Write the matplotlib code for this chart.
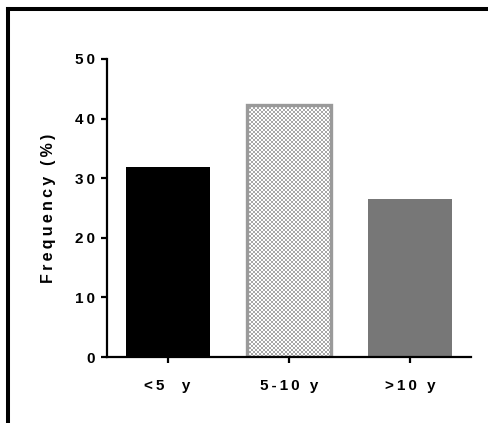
import numpy as np
import matplotlib
matplotlib.use("Agg")
import matplotlib.pyplot as plt
from matplotlib.lines import Line2D

# data
categories = ["<5  y", "5-10 y", ">10 y"]
frequency = [31.8, 42.3, 26.5]
y_ticks = [0, 10, 20, 30, 40, 50]

plt.rcParams['font.family'] = ['Liberation Sans', 'DejaVu Sans']
plt.rcParams['font.weight'] = 'bold'


def spaced(s):
    # letter spacing like the original figure
    return "\u2009".join(list(s))


W, H = 489, 423
fig = plt.figure(figsize=(W / 100, H / 100), dpi=100)
ax = fig.add_axes([107 / W, 1 - 357 / H, (471 - 107) / W, (357 - 59) / H])
ax.patch.set_alpha(0)

x = np.arange(len(categories))
bars = ax.bar(x, frequency, width=0.69, color=['black', 'none', '#777777'],
              edgecolor=['black', '#9a9a9a', '#7a7a7a'], linewidth=[0, 2.4, 0], zorder=2)

ax.set_xlim(-0.5, 2.5)
ax.set_ylim(0, 50)

# checker fill for middle bar, drawn unscaled in pixels (2 px cells), behind the axes
b = bars[1]
p0 = ax.transData.transform((b.get_x(), 0))
p1 = ax.transData.transform((b.get_x() + b.get_width(), b.get_height()))
xo, yo = int(np.floor(p0[0])), int(np.floor(p0[1]))
nx = int(np.ceil(p1[0])) - xo
ny = int(np.ceil(p1[1])) - yo
jj, ii = np.meshgrid(np.arange(nx), np.arange(ny))
checker = ((ii // 2 + jj // 2) % 2).astype(float)
img = fig.figimage(checker, xo=xo, yo=yo, origin='lower',
                   cmap=matplotlib.colors.ListedColormap(['#ffffff', '#a8a8a8']), zorder=-1)

ax.spines['top'].set_visible(False)
ax.spines['right'].set_visible(False)
ax.spines['left'].set_linewidth(1.6)
ax.spines['bottom'].set_linewidth(1.6)

ax.set_yticks(y_ticks)
ax.set_yticklabels([spaced(str(t)) for t in y_ticks])
ax.set_xticks(x)
ax.set_xticklabels([spaced(c) for c in categories])
ax.tick_params(axis='both', width=1.6, length=4.5, labelsize=11)
ax.tick_params(axis='y', pad=4)
ax.tick_params(axis='x', pad=11)

ax.set_ylabel(spaced("Frequency (%)"), fontsize=11.5, fontweight='bold', labelpad=14)

# outer frame (left and top)
fig.add_artist(Line2D([8 / W, 8 / W], [0, 1 - 9 / H], transform=fig.transFigure,
                      color='black', linewidth=2.9, solid_capstyle='projecting'))
fig.add_artist(Line2D([8 / W, 1], [1 - 9 / H, 1 - 9 / H], transform=fig.transFigure,
                      color='black', linewidth=2.9, solid_capstyle='projecting'))

fig.savefig("out.png", dpi=100)
